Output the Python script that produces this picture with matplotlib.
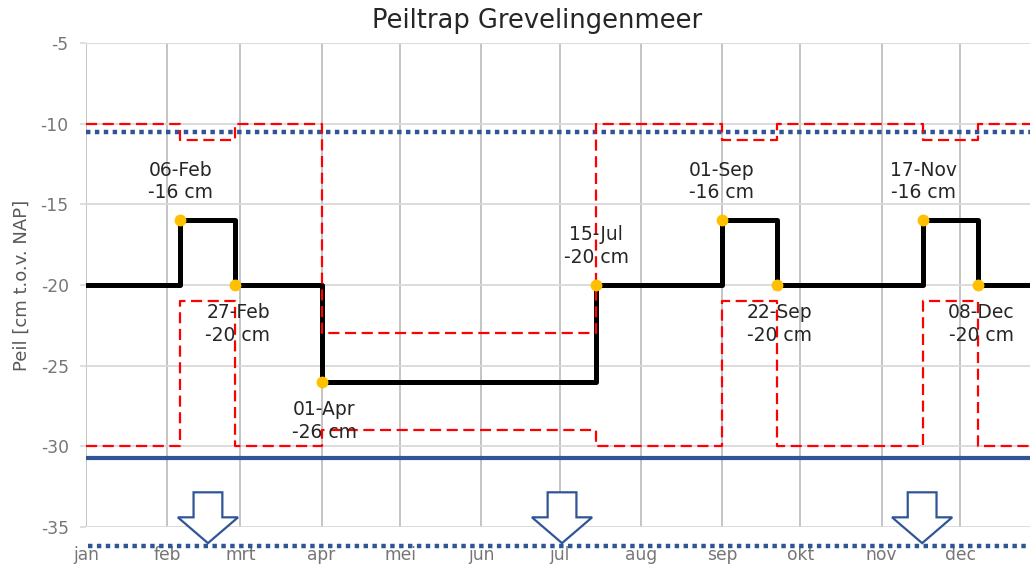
import matplotlib
matplotlib.use('Agg')
import matplotlib.pyplot as plt
from matplotlib.patches import Polygon

# day-of-year breakpoints where the target level changes
change_days = [1, 37, 58, 91, 196, 244, 265, 321, 342]
change_dates = ['', '06-Feb', '27-Feb', '01-Apr', '15-Jul', '01-Sep', '22-Sep', '17-Nov', '08-Dec']
peil = [-20, -16, -20, -26, -20, -16, -20, -16, -20]
upper_band = [-10, -11, -10, -23, -10, -11, -10, -11, -10]
lower_band = [-30, -21, -30, -29, -30, -21, -30, -21, -30]
end_day = 362

month_days = [1, 32, 60, 91, 121, 152, 182, 213, 244, 274, 305, 335]
month_labels = ['jan', 'feb', 'mrt', 'apr', 'mei', 'jun', 'jul', 'aug', 'sep', 'okt', 'nov', 'dec']

upper_limit = -10.5
lower_limit = -30.7
bottom_limit = -36.2
arrow_days = [47.6, 182.9, 320.5]

BLUE = '#2F5597'
plt.rcParams['axes.unicode_minus'] = False


def step_xy(values):
    x = change_days + [end_day]
    y = values + [values[-1]]
    return x, y


def main():
    fig = plt.figure(figsize=(10.30, 5.64), dpi=100)
    ax = fig.add_axes([86 / 1030, 1 - 527 / 564, 944 / 1030, 484 / 564])
    ax.set_xlim(1, 1 + 944 / 2.617)
    ax.set_ylim(-35, -5)

    for s in ax.spines.values():
        s.set_visible(False)
    ax.set_yticks(range(-35, -4, 5))
    ax.set_xticks(month_days)
    ax.set_xticklabels(month_labels)
    ax.tick_params(axis='x', length=0, pad=14, labelsize=12.3, labelcolor='#767676')
    ax.tick_params(axis='y', length=4.5, width=1.2, color='#D9D9D9', pad=8,
                   labelsize=12.3, labelcolor='#767676')
    ax.grid(axis='y', color='#D9D9D9', lw=1.3, zorder=0)
    ax.grid(axis='x', color='#BFBFBF', lw=1.3, zorder=0)
    ax.set_axisbelow(True)

    # limits
    ax.axhline(upper_limit, color=BLUE, lw=3.2, linestyle=(0, (1, 1)),
               dash_capstyle='butt', zorder=2)
    ax.axhline(lower_limit, color=BLUE, lw=3.0, zorder=2)
    ax.plot([1.8, end_day], [bottom_limit, bottom_limit], color=BLUE, lw=3.2,
            linestyle=(0, (1, 1)), dash_capstyle='butt', clip_on=False, zorder=2)

    # target level
    x, y = step_xy(peil)
    ax.step(x, y, where='post', color='black', lw=3.6, zorder=3)

    # bands
    for band in (upper_band, lower_band):
        x, y = step_xy(band)
        ax.step(x, y, where='post', color='#FF0000', lw=1.6,
                linestyle=(0, (5, 2.5)), zorder=4)

    # change points and labels
    ax.plot(change_days[1:], peil[1:], 'o', color='#FFC000', ms=7.5,
            zorder=5, clip_on=False)
    for i in range(1, len(change_days)):
        up = peil[i] > peil[i - 1]
        dy = 28 if up else -28
        dx = 0 if up else 2
        ax.annotate('%s\n%d cm' % (change_dates[i], peil[i]),
                    (change_days[i], peil[i]), xytext=(dx, dy),
                    textcoords='offset points', ha='center', va='center',
                    multialignment='center', fontsize=13.5, color='#262626',
                    linespacing=1.25, zorder=6)

    # arrows
    for d in arrow_days:
        pts = [(d - 5.5, -32.85), (d + 5.5, -32.85), (d + 5.5, -34.4),
               (d + 11.5, -34.4), (d, -36.0), (d - 11.5, -34.4), (d - 5.5, -34.4)]
        ax.add_patch(Polygon(pts, closed=True, facecolor='white', edgecolor=BLUE,
                             lw=1.6, clip_on=False, zorder=6))

    ax.set_ylabel('Peil [cm t.o.v. NAP]', fontsize=13, color='#595959')
    ax.yaxis.set_label_coords(-55 / 944, 0.5)
    fig.text(537 / 1030, 1 - 21 / 564, 'Peiltrap Grevelingenmeer', ha='center',
             va='center', fontsize=18.5, color='#262626')

    fig.savefig('out.png', dpi=100)


if __name__ == '__main__':
    main()
